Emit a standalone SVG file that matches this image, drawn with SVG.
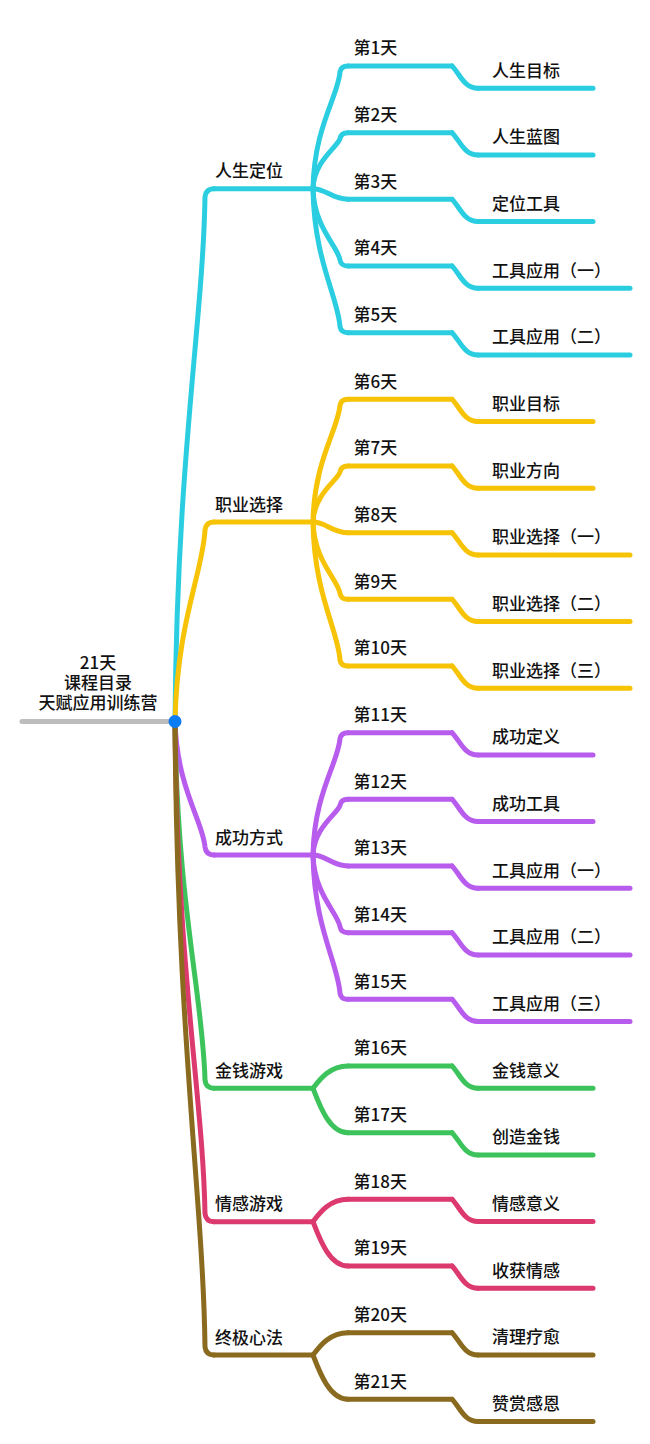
<svg xmlns="http://www.w3.org/2000/svg" width="650" height="1444" viewBox="0 0 650 1444">
<style>
.ln{fill:none;stroke-width:5;stroke-linecap:round;stroke-linejoin:round}
.c1{stroke:#2BCEE0}.c2{stroke:#F6C307}.c3{stroke:#B85CEE}.c4{stroke:#3DC35C}.c5{stroke:#DC3A6E}.c6{stroke:#8A6A1E}
.t{font-family:"Noto Sans CJK SC","Noto Sans",sans-serif;font-size:17px;font-weight:500;fill:#111}
.m{text-anchor:middle}
</style>
<rect width="650" height="1444" fill="#fff"/>
<g id="connectors">
<path class="ln c1" d="M175,721.5 C177,455.1 203,321.9 205,196.7 Q206,188.7 214,188.7"/>
<path class="ln c2" d="M175,721.5 C177,621.8 203,571.9 205,530 Q206,522 214,522"/>
<path class="ln c3" d="M175,721.5 C177,788.3 203,821.6 205,847 Q206,855 214,855"/>
<path class="ln c4" d="M175,721.5 C177,904.9 203,996.6 205,1080.3 Q206,1088.3 214,1088.3"/>
<path class="ln c5" d="M175,721.5 C177,971.6 203,1096.7 205,1213.7 Q206,1221.7 214,1221.7"/>
<path class="ln c6" d="M175,721.5 C177,1038.3 203,1196.6 205,1347 Q206,1355 214,1355"/>
<path class="ln c1" d="M313,188.7 C314,127.4 338,96.7 340,72 Q341,66 348,66"/>
<path class="ln c1" d="M313,188.7 C314,160.7 338,146.7 340,138.7 Q341,132.7 348,132.7"/>
<path class="ln c1" d="M313,188.7 C326,188.7 332,199.3 348,199.3"/>
<path class="ln c1" d="M313,188.7 C314,227.4 338,246.7 340,260 Q341,266 348,266"/>
<path class="ln c1" d="M313,188.7 C314,260.7 338,296.7 340,326.7 Q341,332.7 348,332.7"/>
<path class="ln c2" d="M313,522 C314,460.7 338,430 340,405.3 Q341,399.3 348,399.3"/>
<path class="ln c2" d="M313,522 C314,494 338,480 340,472 Q341,466 348,466"/>
<path class="ln c2" d="M313,522 C326,522 332,532.7 348,532.7"/>
<path class="ln c2" d="M313,522 C314,560.7 338,580 340,593.3 Q341,599.3 348,599.3"/>
<path class="ln c2" d="M313,522 C314,594 338,630 340,660 Q341,666 348,666"/>
<path class="ln c3" d="M313,855 C314,793.9 338,763.3 340,738.7 Q341,732.7 348,732.7"/>
<path class="ln c3" d="M313,855 C314,827.2 338,813.2 340,805.3 Q341,799.3 348,799.3"/>
<path class="ln c3" d="M313,855 C326,855 332,866 348,866"/>
<path class="ln c3" d="M313,855 C314,893.9 338,913.3 340,926.7 Q341,932.7 348,932.7"/>
<path class="ln c3" d="M313,855 C314,927.2 338,963.2 340,993.3 Q341,999.3 348,999.3"/>
<path class="ln c4" d="M313,1088.3 C319,1080.5 329,1066 348,1066"/>
<path class="ln c4" d="M313,1088.3 C319,1103.8 329,1132.7 348,1132.7"/>
<path class="ln c5" d="M313,1221.7 C319,1213.9 329,1199.3 348,1199.3"/>
<path class="ln c5" d="M313,1221.7 C319,1237.2 329,1266 348,1266"/>
<path class="ln c6" d="M313,1355 C319,1347.2 329,1332.7 348,1332.7"/>
<path class="ln c6" d="M313,1355 C319,1370.5 329,1399.3 348,1399.3"/>
<path class="ln c1" d="M452,66 C460,74 464,88.3 478,88.3"/>
<path class="ln c1" d="M452,132.7 C460,140.7 464,155 478,155"/>
<path class="ln c1" d="M452,199.3 C460,207.3 464,221.6 478,221.6"/>
<path class="ln c1" d="M452,266 C460,274 464,288.3 478,288.3"/>
<path class="ln c1" d="M452,332.7 C460,340.7 464,355 478,355"/>
<path class="ln c2" d="M452,399.3 C460,407.3 464,421.6 478,421.6"/>
<path class="ln c2" d="M452,466 C460,474 464,488.3 478,488.3"/>
<path class="ln c2" d="M452,532.7 C460,540.7 464,555 478,555"/>
<path class="ln c2" d="M452,599.3 C460,607.3 464,621.6 478,621.6"/>
<path class="ln c2" d="M452,666 C460,674 464,688.3 478,688.3"/>
<path class="ln c3" d="M452,732.7 C460,740.7 464,755 478,755"/>
<path class="ln c3" d="M452,799.3 C460,807.3 464,821.6 478,821.6"/>
<path class="ln c3" d="M452,866 C460,874 464,888.3 478,888.3"/>
<path class="ln c3" d="M452,932.7 C460,940.7 464,955 478,955"/>
<path class="ln c3" d="M452,999.3 C460,1007.3 464,1021.6 478,1021.6"/>
<path class="ln c4" d="M452,1066 C460,1074 464,1088.3 478,1088.3"/>
<path class="ln c4" d="M452,1132.7 C460,1140.7 464,1155 478,1155"/>
<path class="ln c5" d="M452,1199.3 C460,1207.3 464,1221.6 478,1221.6"/>
<path class="ln c5" d="M452,1266 C460,1274 464,1288.3 478,1288.3"/>
<path class="ln c6" d="M452,1332.7 C460,1340.7 464,1355 478,1355"/>
<path class="ln c6" d="M452,1399.3 C460,1407.3 464,1421.6 478,1421.6"/>
</g>
<g id="root">
<line x1="22" y1="721.5" x2="175" y2="721.5" stroke="#BDBDBD" stroke-width="5" stroke-linecap="round"/>
<circle cx="175" cy="721.5" r="6.5" fill="#0A7CF4"/>
<text class="t m" x="98" y="669">21天</text>
<text class="t m" x="98" y="689">课程目录</text>
<text class="t m" x="98" y="709">天赋应用训练营</text>
</g>
<g id="n-rsdw"><path class="ln c1" d="M214,188.7 H313"/><text class="t" x="215" y="177.2">人生定位</text></g>
<g id="n-zyxz"><path class="ln c2" d="M214,522 H313"/><text class="t" x="215" y="510.5">职业选择</text></g>
<g id="n-cgfs"><path class="ln c3" d="M214,855 H313"/><text class="t" x="215" y="843.5">成功方式</text></g>
<g id="n-jqyx"><path class="ln c4" d="M214,1088.3 H313"/><text class="t" x="215" y="1076.8">金钱游戏</text></g>
<g id="n-qgyx"><path class="ln c5" d="M214,1221.7 H313"/><text class="t" x="215" y="1210.2">情感游戏</text></g>
<g id="n-zjxf"><path class="ln c6" d="M214,1355 H313"/><text class="t" x="215" y="1343.5">终极心法</text></g>
<g id="d1"><path class="ln c1" d="M348,66 H452"/><text class="t" x="353.5" y="54.3">第1天</text></g>
<g id="d2"><path class="ln c1" d="M348,132.7 H452"/><text class="t" x="353.5" y="121">第2天</text></g>
<g id="d3"><path class="ln c1" d="M348,199.3 H452"/><text class="t" x="353.5" y="187.6">第3天</text></g>
<g id="d4"><path class="ln c1" d="M348,266 H452"/><text class="t" x="353.5" y="254.3">第4天</text></g>
<g id="d5"><path class="ln c1" d="M348,332.7 H452"/><text class="t" x="353.5" y="321">第5天</text></g>
<g id="d6"><path class="ln c2" d="M348,399.3 H452"/><text class="t" x="353.5" y="387.6">第6天</text></g>
<g id="d7"><path class="ln c2" d="M348,466 H452"/><text class="t" x="353.5" y="454.3">第7天</text></g>
<g id="d8"><path class="ln c2" d="M348,532.7 H452"/><text class="t" x="353.5" y="521">第8天</text></g>
<g id="d9"><path class="ln c2" d="M348,599.3 H452"/><text class="t" x="353.5" y="587.6">第9天</text></g>
<g id="d10"><path class="ln c2" d="M348,666 H452"/><text class="t" x="353.5" y="654.3">第10天</text></g>
<g id="d11"><path class="ln c3" d="M348,732.7 H452"/><text class="t" x="353.5" y="721">第11天</text></g>
<g id="d12"><path class="ln c3" d="M348,799.3 H452"/><text class="t" x="353.5" y="787.6">第12天</text></g>
<g id="d13"><path class="ln c3" d="M348,866 H452"/><text class="t" x="353.5" y="854.3">第13天</text></g>
<g id="d14"><path class="ln c3" d="M348,932.7 H452"/><text class="t" x="353.5" y="921">第14天</text></g>
<g id="d15"><path class="ln c3" d="M348,999.3 H452"/><text class="t" x="353.5" y="987.6">第15天</text></g>
<g id="d16"><path class="ln c4" d="M348,1066 H452"/><text class="t" x="353.5" y="1054.3">第16天</text></g>
<g id="d17"><path class="ln c4" d="M348,1132.7 H452"/><text class="t" x="353.5" y="1121">第17天</text></g>
<g id="d18"><path class="ln c5" d="M348,1199.3 H452"/><text class="t" x="353.5" y="1187.6">第18天</text></g>
<g id="d19"><path class="ln c5" d="M348,1266 H452"/><text class="t" x="353.5" y="1254.3">第19天</text></g>
<g id="d20"><path class="ln c6" d="M348,1332.7 H452"/><text class="t" x="353.5" y="1321">第20天</text></g>
<g id="d21"><path class="ln c6" d="M348,1399.3 H452"/><text class="t" x="353.5" y="1387.6">第21天</text></g>
<g id="l1"><path class="ln c1" d="M478,88.3 H593"/><text class="t" x="492" y="76.6">人生目标</text></g>
<g id="l2"><path class="ln c1" d="M478,155 H593"/><text class="t" x="492" y="143.3">人生蓝图</text></g>
<g id="l3"><path class="ln c1" d="M478,221.6 H593"/><text class="t" x="492" y="209.9">定位工具</text></g>
<g id="l4"><path class="ln c1" d="M478,288.3 H630"/><text class="t" x="492" y="276.6">工具应用（一）</text></g>
<g id="l5"><path class="ln c1" d="M478,355 H630"/><text class="t" x="492" y="343.3">工具应用（二）</text></g>
<g id="l6"><path class="ln c2" d="M478,421.6 H593"/><text class="t" x="492" y="409.9">职业目标</text></g>
<g id="l7"><path class="ln c2" d="M478,488.3 H593"/><text class="t" x="492" y="476.6">职业方向</text></g>
<g id="l8"><path class="ln c2" d="M478,555 H630"/><text class="t" x="492" y="543.3">职业选择（一）</text></g>
<g id="l9"><path class="ln c2" d="M478,621.6 H630"/><text class="t" x="492" y="609.9">职业选择（二）</text></g>
<g id="l10"><path class="ln c2" d="M478,688.3 H630"/><text class="t" x="492" y="676.6">职业选择（三）</text></g>
<g id="l11"><path class="ln c3" d="M478,755 H593"/><text class="t" x="492" y="743.3">成功定义</text></g>
<g id="l12"><path class="ln c3" d="M478,821.6 H593"/><text class="t" x="492" y="809.9">成功工具</text></g>
<g id="l13"><path class="ln c3" d="M478,888.3 H630"/><text class="t" x="492" y="876.6">工具应用（一）</text></g>
<g id="l14"><path class="ln c3" d="M478,955 H630"/><text class="t" x="492" y="943.3">工具应用（二）</text></g>
<g id="l15"><path class="ln c3" d="M478,1021.6 H630"/><text class="t" x="492" y="1009.9">工具应用（三）</text></g>
<g id="l16"><path class="ln c4" d="M478,1088.3 H593"/><text class="t" x="492" y="1076.6">金钱意义</text></g>
<g id="l17"><path class="ln c4" d="M478,1155 H593"/><text class="t" x="492" y="1143.3">创造金钱</text></g>
<g id="l18"><path class="ln c5" d="M478,1221.6 H593"/><text class="t" x="492" y="1209.9">情感意义</text></g>
<g id="l19"><path class="ln c5" d="M478,1288.3 H593"/><text class="t" x="492" y="1276.6">收获情感</text></g>
<g id="l20"><path class="ln c6" d="M478,1355 H593"/><text class="t" x="492" y="1343.3">清理疗愈</text></g>
<g id="l21"><path class="ln c6" d="M478,1421.6 H593"/><text class="t" x="492" y="1409.9">赞赏感恩</text></g>
</svg>
